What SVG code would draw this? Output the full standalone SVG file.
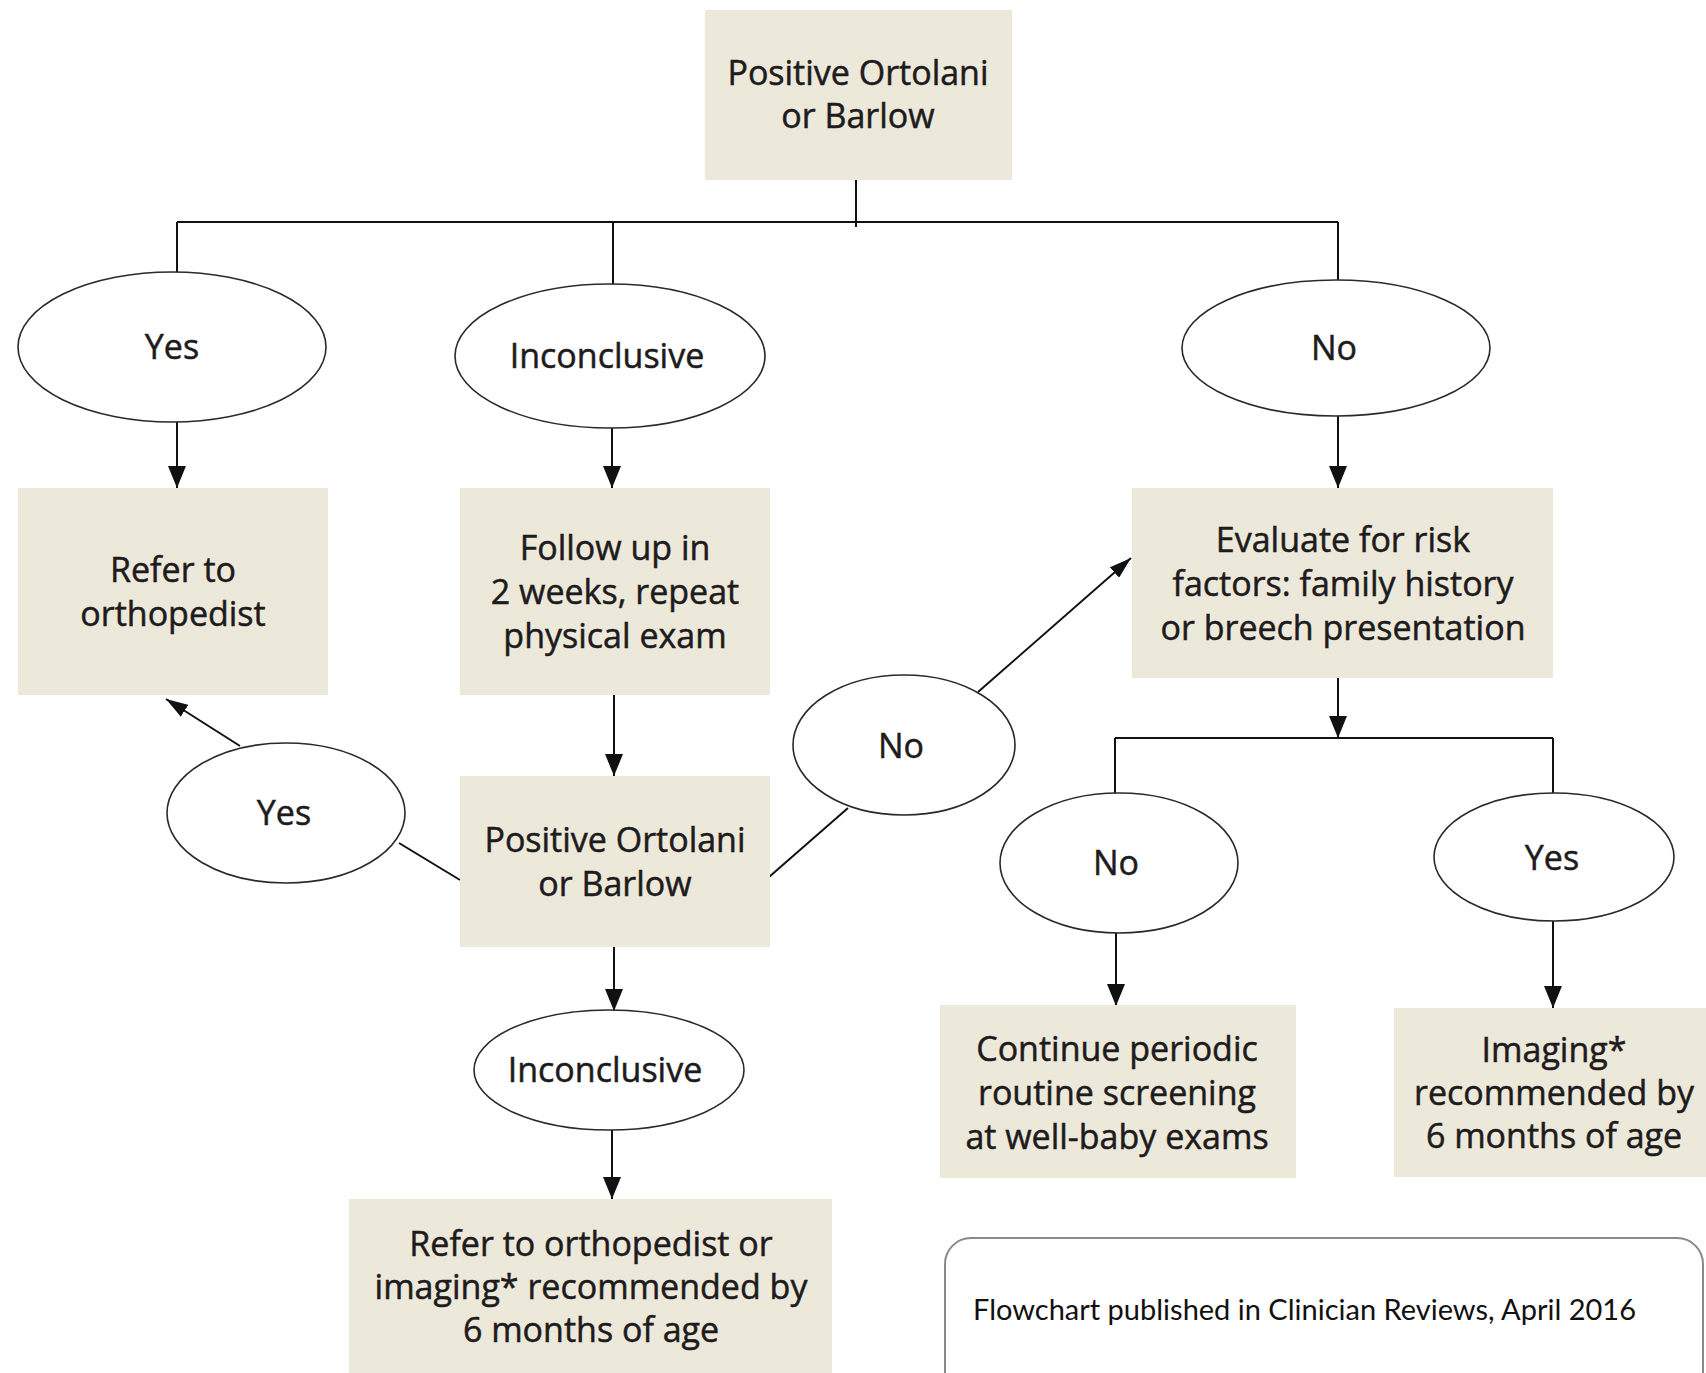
<svg xmlns="http://www.w3.org/2000/svg" width="1706" height="1373" viewBox="0 0 1706 1373">
<style>
.box{fill:#ece8da;}
.oval{fill:#ffffff;stroke:#2a2a2a;stroke-width:1.6;}
.t{font-family:"Open Sans","Noto Sans",sans-serif;font-size:34px;fill:#1e1b1c;stroke:#1e1b1c;stroke-width:0.5;text-anchor:middle;}
.ln{stroke:#111;stroke-width:2;fill:none;}
.ft{font-family:Lato,"Open Sans",sans-serif;font-size:29px;fill:#111;}
</style>
<defs>
<marker id="ah" viewBox="0 0 22 18" refX="22" refY="9" markerWidth="22" markerHeight="18" markerUnits="userSpaceOnUse" orient="auto">
<path d="M0,0 L22,9 L0,18 z" fill="#111"/>
</marker>
<marker id="ahd" viewBox="0 0 22 14" refX="22" refY="7" markerWidth="22" markerHeight="14" markerUnits="userSpaceOnUse" orient="auto">
<path d="M0,0 L22,7 L0,14 z" fill="#111"/>
</marker>
</defs>
<rect width="1706" height="1373" fill="#ffffff"/>

<g id="connectors">
<line class="ln" x1="856" y1="180" x2="856" y2="227"/>
<line class="ln" x1="177" y1="222" x2="1338" y2="222"/>
<line class="ln" x1="177" y1="222" x2="177" y2="273"/>
<line class="ln" x1="613" y1="222" x2="613" y2="284"/>
<line class="ln" x1="1338" y1="222" x2="1338" y2="280"/>
<line class="ln" x1="177" y1="422" x2="177" y2="488" marker-end="url(#ah)"/>
<line class="ln" x1="612" y1="428" x2="612" y2="488" marker-end="url(#ah)"/>
<line class="ln" x1="1338" y1="416" x2="1338" y2="488" marker-end="url(#ah)"/>
<line class="ln" x1="614" y1="695" x2="614" y2="776" marker-end="url(#ah)"/>
<line class="ln" x1="460" y1="880" x2="399" y2="843"/>
<line class="ln" x1="240" y1="746" x2="166" y2="699" marker-end="url(#ahd)"/>
<line class="ln" x1="769" y1="877" x2="848" y2="808"/>
<line class="ln" x1="978" y1="692" x2="1131" y2="558" marker-end="url(#ahd)"/>
<line class="ln" x1="614" y1="947" x2="614" y2="1011" marker-end="url(#ah)"/>
<line class="ln" x1="612" y1="1130" x2="612" y2="1199" marker-end="url(#ah)"/>
<line class="ln" x1="1338" y1="678" x2="1338" y2="738" marker-end="url(#ah)"/>
<line class="ln" x1="1115" y1="738" x2="1553" y2="738"/>
<line class="ln" x1="1115" y1="738" x2="1115" y2="794"/>
<line class="ln" x1="1553" y1="738" x2="1553" y2="794"/>
<line class="ln" x1="1116" y1="933" x2="1116" y2="1006" marker-end="url(#ah)"/>
<line class="ln" x1="1553" y1="921" x2="1553" y2="1008" marker-end="url(#ah)"/>
</g>

<g id="n-start">
<rect class="box" x="705" y="10" width="307" height="170"/>
<text class="t" x="858" y="85">Positive Ortolani</text>
<text class="t" x="858" y="128">or Barlow</text>
</g>

<g id="n-yes1">
<ellipse class="oval" cx="172" cy="347" rx="154" ry="75"/>
<text class="t" x="172" y="359">Yes</text>
</g>

<g id="n-inc1">
<ellipse class="oval" cx="610" cy="356" rx="155" ry="72"/>
<text class="t" x="607" y="368">Inconclusive</text>
</g>

<g id="n-no1">
<ellipse class="oval" cx="1336" cy="348" rx="154" ry="68"/>
<text class="t" x="1334" y="360">No</text>
</g>

<g id="n-refer">
<rect class="box" x="18" y="488" width="310" height="207"/>
<text class="t" x="173" y="582">Refer to</text>
<text class="t" x="173" y="626">orthopedist</text>
</g>

<g id="n-follow">
<rect class="box" x="460" y="488" width="310" height="207"/>
<text class="t" x="615" y="560">Follow up in</text>
<text class="t" x="615" y="604">2 weeks, repeat</text>
<text class="t" x="615" y="648">physical exam</text>
</g>

<g id="n-evaluate">
<rect class="box" x="1132" y="488" width="421" height="190"/>
<text class="t" x="1343" y="552">Evaluate for risk</text>
<text class="t" x="1343" y="596">factors: family history</text>
<text class="t" x="1343" y="640">or breech presentation</text>
</g>

<g id="n-pos2">
<rect class="box" x="460" y="776" width="310" height="171"/>
<text class="t" x="615" y="852">Positive Ortolani</text>
<text class="t" x="615" y="896">or Barlow</text>
</g>

<g id="n-yes2">
<ellipse class="oval" cx="286" cy="813" rx="119" ry="70"/>
<text class="t" x="284" y="825">Yes</text>
</g>

<g id="n-no2">
<ellipse class="oval" cx="904" cy="745" rx="111" ry="70"/>
<text class="t" x="901" y="758">No</text>
</g>

<g id="n-inc2">
<ellipse class="oval" cx="609" cy="1070" rx="135" ry="60"/>
<text class="t" x="605" y="1082">Inconclusive</text>
</g>

<g id="n-final">
<rect class="box" x="349" y="1199" width="483" height="174"/>
<text class="t" x="591" y="1256">Refer to orthopedist or</text>
<text class="t" x="591" y="1299">imaging* recommended by</text>
<text class="t" x="591" y="1342">6 months of age</text>
</g>

<g id="n-no3">
<ellipse class="oval" cx="1119" cy="863" rx="119" ry="70"/>
<text class="t" x="1116" y="875">No</text>
</g>

<g id="n-yes3">
<ellipse class="oval" cx="1554" cy="857" rx="120" ry="64"/>
<text class="t" x="1552" y="870">Yes</text>
</g>

<g id="n-continue">
<rect class="box" x="940" y="1005" width="356" height="173"/>
<text class="t" x="1117" y="1061">Continue periodic</text>
<text class="t" x="1117" y="1105">routine screening</text>
<text class="t" x="1117" y="1149">at well-baby exams</text>
</g>

<g id="n-imaging">
<rect class="box" x="1394" y="1008" width="312" height="169"/>
<text class="t" x="1554" y="1062">Imaging*</text>
<text class="t" x="1554" y="1105">recommended by</text>
<text class="t" x="1554" y="1148">6 months of age</text>
</g>

<g id="n-footer">
<rect x="945" y="1238" width="758" height="170" rx="26" ry="26" fill="#ffffff" stroke="#8a8a8a" stroke-width="2"/>
<text class="ft" x="973" y="1320">Flowchart published in Clinician Reviews, April 2016</text>
</g>
</svg>
